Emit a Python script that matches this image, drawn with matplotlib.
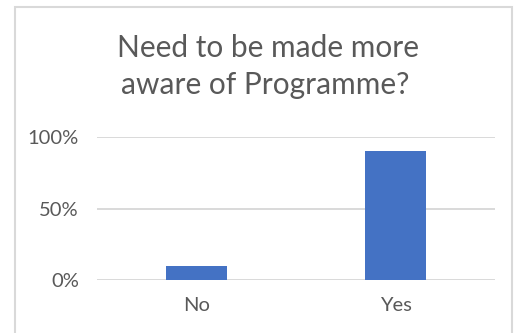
import matplotlib
matplotlib.use("Agg")
import matplotlib.pyplot as plt
from matplotlib.patches import Rectangle
from matplotlib.ticker import FuncFormatter

categories = ["No", "Yes"]
values = [0.10, 0.90]
yticks = [0.0, 0.5, 1.0]
title_lines = ["Need to be made more", "aware of Programme?"]

plt.rcParams['font.family'] = ['Lato', 'DejaVu Sans']
W, H = 527, 333
fig = plt.figure(figsize=(W/100, H/100), dpi=100)
fig.patch.set_facecolor('white')

ax = fig.add_axes([97/W, 1-280/H, 398/W, 143/H])
x = list(range(len(categories)))
ax.bar(x, values, width=0.31, color='#4472c4', zorder=3)
ax.set_xlim(-0.5, len(categories)-0.5)
ax.set_ylim(0, 1.0)
ax.set_yticks(yticks)
ax.yaxis.set_major_formatter(FuncFormatter(lambda v, p: f"{int(round(v*100))}%"))
ax.set_xticks(x)
ax.set_xticklabels(categories)
ax.grid(axis='y', color='#d9d9d9', linewidth=1.4, zorder=0)
for s in ax.spines.values():
    s.set_visible(False)
ax.tick_params(axis='both', length=0, colors='#595959', labelsize=14.5)
ax.tick_params(axis='y', pad=13)
ax.tick_params(axis='x', pad=12)

fig.text(0.508, 1-57/H, title_lines[0], ha='center', va='baseline', fontsize=21.5, color='#595959')
fig.text(0.503, 1-94/H, title_lines[1], ha='center', va='baseline', fontsize=21.5, color='#595959')

fig.patches.append(Rectangle((15/W, -0.05), (512-15)/W, 1.05-7/H, transform=fig.transFigure,
                             fill=False, edgecolor='#d9d9d9', linewidth=1.5))
fig.savefig('out.png', dpi=100)
